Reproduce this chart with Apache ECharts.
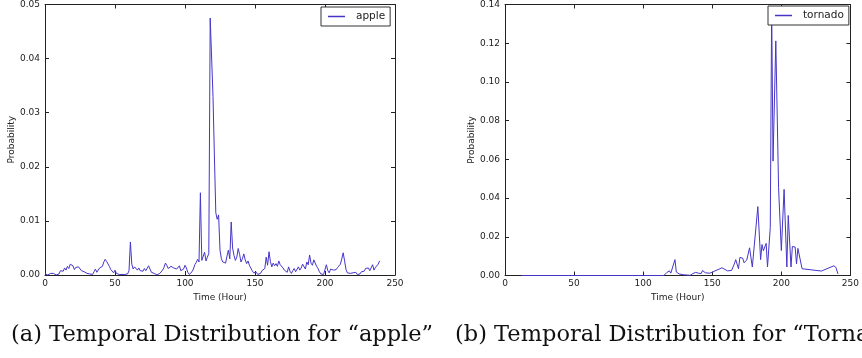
<!DOCTYPE html>
<html><head><meta charset="utf-8">
<script src="https://cdn.jsdelivr.net/npm/echarts@6/dist/echarts.min.js"></script>
<style>html,body{margin:0;padding:0;background:#fff}#c{width:862px;height:358px}</style>
</head><body><div id="c"></div>
<script>
// ---- data ----
const xTickValues = [0, 50, 100, 150, 200, 250];
const appleYTicks = [0.00, 0.01, 0.02, 0.03, 0.04, 0.05];
const tornadoYTicks = [0.00, 0.02, 0.04, 0.06, 0.08, 0.10, 0.12, 0.14];
const appleStartHour = 0;
// hourly probability for "apple", hour 0 .. 239
const appleValues = [
  0.0002,0.0001,0.0000,0.0001,0.0003,0.0005,0.0003,0.0002,0.0000,0.0001,
  0.0002,0.0008,0.0011,0.0007,0.0013,0.0009,0.0016,0.0012,0.0020,0.0023,
  0.0017,0.0010,0.0014,0.0011,0.0015,0.0013,0.0008,0.0007,0.0006,0.0004,
  0.0003,0.0005,0.0002,0.0004,0.0001,0.0006,0.0011,0.0005,0.0008,0.0013,
  0.0010,0.0016,0.0024,0.0029,0.0025,0.0026,0.0016,0.0010,0.0007,0.0004,
  0.0009,0.0003,0.0001,0.0001,0.0000,0.0001,0.0000,0.0001,0.0000,0.0002,
  0.0008,0.0061,0.0020,0.0011,0.0015,0.0012,0.0009,0.0013,0.0008,0.0011,
  0.0007,0.0012,0.0008,0.0010,0.0017,0.0011,0.0005,0.0007,0.0003,0.0001,
  0.0000,0.0002,0.0003,0.0006,0.0009,0.0014,0.0022,0.0018,0.0012,0.0010,
  0.0016,0.0019,0.0013,0.0016,0.0011,0.0014,0.0017,0.0008,0.0005,0.0011,
  0.0018,0.0013,0.0005,0.0001,0.0002,0.0006,0.0011,0.0019,0.0023,0.0029,
  0.0024,0.0152,0.0027,0.0024,0.0042,0.0026,0.0033,0.0040,0.0475,0.0474,
  0.0330,0.0220,0.0115,0.0103,0.0111,0.0046,0.0030,0.0024,0.0027,0.0022,
  0.0035,0.0046,0.0030,0.0098,0.0050,0.0036,0.0027,0.0033,0.0049,0.0038,
  0.0024,0.0030,0.0039,0.0028,0.0021,0.0026,0.0018,0.0015,0.0008,0.0004,
  0.0002,0.0005,0.0001,0.0004,0.0003,0.0008,0.0006,0.0012,0.0033,0.0018,
  0.0043,0.0025,0.0015,0.0022,0.0017,0.0021,0.0016,0.0026,0.0019,0.0021,
  0.0013,0.0009,0.0012,0.0005,0.0015,0.0007,0.0003,0.0008,0.0012,0.0006,
  0.0004,0.0015,0.0009,0.0013,0.0020,0.0017,0.0011,0.0024,0.0019,0.0037,
  0.0022,0.0018,0.0028,0.0030,0.0016,0.0012,0.0006,0.0002,0.0003,0.0001,
  0.0002,0.0019,0.0008,0.0004,0.0011,0.0014,0.0009,0.0012,0.0010,0.0014,
  0.0016,0.0020,0.0030,0.0041,0.0026,0.0010,0.0004,0.0002,0.0003,0.0001,
  0.0004,0.0002,0.0005,0.0001,0.0003,0.0002,0.0006,0.0009,0.0007,0.0012,
  0.0009,0.0013,0.0008,0.0011,0.0019,0.0009,0.0014,0.0016,0.0020,0.0026
];
const tornadoHours = [
  12,115,117,118,119,120,121,123,124,126,129,134,136,138,139,140,142,143,145,148,
  150,152,155,157,161,164,166,167,169,170,172,173,175,177,179,183,185,186,187,189,
  190,192,193,194,196,198,200,202,204,205,207,208,210,211,212,215,229,238,239.5,241
];
const tornadoValues = [
  0,0,0.0015,0.0008,0.0024,0.0012,0.0020,0.0082,0.0018,0.0008,0.0004,0.0001,0.0010,0.0016,0.0008,0.0012,0.0010,0.0026,0.0014,0.0012,
  0.0016,0.0024,0.0033,0.0040,0.0024,0.0026,0.0060,0.0082,0.0035,0.0093,0.0090,0.0066,0.0080,0.0143,0.0044,0.0356,0.0082,0.0160,0.0128,0.0166,
  0.0044,0.0248,0.1383,0.0591,0.1212,0.0453,0.0129,0.0445,0.0044,0.0310,0.0044,0.0150,0.0147,0.0060,0.0140,0.0035,0.0023,0.0050,0.0042,0.0008
];
const captionA = '(a) Temporal Distribution for \u201capple\u201d';
const captionB = '(b) Temporal Distribution for \u201cTornado\u201d';

// ---- chart ----
const LINE = '#4536c8';
const INK = '#222';
const SANS = '"DejaVu Sans", sans-serif';

function xAxes(gi) {
  const base = {
    gridIndex: gi, type: 'value', min: xTickValues[0], max: xTickValues[xTickValues.length - 1],
    interval: xTickValues[1] - xTickValues[0],
    axisLine: { show: true, onZero: false, lineStyle: { color: INK, width: 1 } },
    axisTick: { show: true, inside: true, length: 4, lineStyle: { color: INK } },
    splitLine: { show: false }
  };
  return [
    Object.assign({}, base, {
      position: 'bottom',
      axisLabel: { fontSize: 9, color: INK, margin: 4, fontFamily: SANS },
      name: 'Time (Hour)', nameLocation: 'middle', nameGap: 13,
      nameTextStyle: { fontSize: 9, color: INK, fontFamily: SANS }
    }),
    Object.assign({}, base, { position: 'top', axisLabel: { show: false } })
  ];
}
function yAxes(gi, ticks) {
  const base = {
    gridIndex: gi, type: 'value', min: ticks[0], max: ticks[ticks.length - 1],
    interval: ticks[1] - ticks[0],
    axisLine: { show: true, onZero: false, lineStyle: { color: INK, width: 1 } },
    axisTick: { show: true, inside: true, length: 4, lineStyle: { color: INK } },
    splitLine: { show: false }
  };
  return [
    Object.assign({}, base, {
      position: 'left',
      axisLabel: { fontSize: 9, color: INK, margin: 5, fontFamily: SANS, formatter: v => v.toFixed(2) },
      name: 'Probability', nameLocation: 'middle', nameGap: 28, nameRotate: 90,
      nameTextStyle: { fontSize: 9, color: INK, fontFamily: SANS }
    }),
    Object.assign({}, base, { position: 'right', axisLabel: { show: false } })
  ];
}

const legendBase = {
  orient: 'horizontal', icon: 'rect', itemWidth: 17, itemHeight: 1.5,
  backgroundColor: '#fff', borderColor: '#333', borderWidth: 1, borderRadius: 0,
  textStyle: { fontSize: 10.5, color: INK, fontFamily: SANS, padding: [0, 0, 0, 6] }
};

const chart = echarts.init(document.getElementById('c'), null, { renderer: 'canvas' });
chart.setOption({
  animation: false,
  backgroundColor: '#fff',
  grid: [
    { left: 45, top: 1.5, width: 350, height: 273.5, containLabel: false },
    { left: 505, top: 1.5, width: 347, height: 274, containLabel: false }
  ],
  xAxis: [...xAxes(0), ...xAxes(1)],
  yAxis: [...yAxes(0, appleYTicks), ...yAxes(1, tornadoYTicks)],
  legend: [
    Object.assign({}, legendBase, { data: ['apple'], left: 321, top: 7, padding: [4, 5, 4, 7] }),
    Object.assign({}, legendBase, { data: ['tornado'], left: 768, top: 6, padding: [4, 5, 4, 7] })
  ],
  series: [
    {
      name: 'apple', type: 'line', xAxisIndex: 0, yAxisIndex: 0,
      data: appleValues.map((v, i) => [appleStartHour + i, v]),
      showSymbol: false, symbol: 'none', color: LINE, lineStyle: { width: 1, color: LINE }
    },
    {
      name: 'tornado', type: 'line', xAxisIndex: 2, yAxisIndex: 2,
      data: tornadoHours.map((h, i) => [h, tornadoValues[i]]),
      showSymbol: false, symbol: 'none', color: LINE, lineStyle: { width: 1, color: LINE }
    }
  ],
  graphic: [
    { type: 'text', x: 11, y: 324, style: { text: captionA, font: '22.5px "DejaVu Serif", serif', fill: '#111', textVerticalAlign: 'top' } },
    { type: 'text', x: 455, y: 324, style: { text: captionB, font: '22.5px "DejaVu Serif", serif', fill: '#111', textVerticalAlign: 'top' } }
  ]
});
</script>
</body></html>
